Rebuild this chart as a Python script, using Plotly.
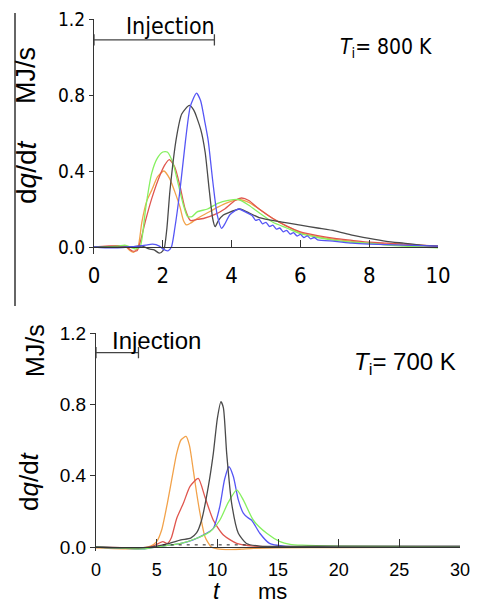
import plotly.graph_objects as go

# heat release rate curves (t in ms, dq/dt in MJ/s)
# ---- Ti = 800 K ----
t800_orange = [0, 0.5, 0.9, 1.05, 1.15, 1.28, 1.39, 1.53, 1.68, 1.85, 2.03, 2.2, 2.35, 2.5, 2.6, 2.69, 2.8, 3.0, 3.3,
               3.6, 3.9, 4.2, 4.5, 4.8, 5.2, 5.6, 6.0, 6.5, 7.0, 7.5, 8.0, 8.5, 9.0, 9.5, 10]
q800_orange = [0, 0, 0.005, -0.02, -0.028, 0.0, 0.13, 0.24, 0.30, 0.37, 0.40, 0.36, 0.29, 0.21, 0.14, 0.116, 0.125,
               0.15, 0.18, 0.21, 0.235, 0.25, 0.235, 0.2, 0.15, 0.11, 0.075, 0.055, 0.04, 0.03, 0.02, 0.015, 0.01,
               0.005, 0.005]

t800_red = [0, 0.9, 1.1, 1.25, 1.35, 1.5, 1.68, 1.9, 2.05, 2.19, 2.35, 2.5, 2.65, 2.8, 3.0, 3.18, 3.5, 3.8, 4.1,
            4.29, 4.5, 4.8, 5.2, 5.6, 6.0, 6.5, 7.0, 7.5, 8.0, 8.5, 9.0, 9.5, 10]
q800_red = [0, 0.005, -0.02, -0.02, 0.03, 0.14, 0.256, 0.37, 0.43, 0.46, 0.42, 0.32, 0.2, 0.14, 0.145, 0.15, 0.17,
            0.2, 0.245, 0.258, 0.245, 0.2, 0.15, 0.11, 0.08, 0.06, 0.045, 0.035, 0.025, 0.02, 0.015, 0.01, 0.005]

t800_green = [0, 0.7, 0.9, 1.2, 1.34, 1.4, 1.5, 1.68, 1.85, 2.0, 2.13, 2.3, 2.45, 2.6, 2.72, 2.85, 3.0, 3.3, 3.6,
              3.9, 4.2, 4.5, 4.8, 5.2, 5.6, 6.0, 6.5, 7.0, 7.5, 8.0, 8.5, 9.0, 9.5, 10]
q800_green = [0, 0.005, 0.01, -0.01, 0.0, 0.05, 0.2, 0.39, 0.47, 0.5, 0.5, 0.44, 0.33, 0.22, 0.16, 0.16, 0.185, 0.2,
              0.23, 0.245, 0.25, 0.22, 0.18, 0.13, 0.1, 0.07, 0.05, 0.035, 0.025, 0.02, 0.01, 0.005, 0.0, -0.005]

t800_black = [0, 1.0, 1.4, 1.6, 1.75, 1.9, 2.0, 2.05, 2.12, 2.21, 2.4, 2.55, 2.77, 2.9, 3.1, 3.23, 3.35, 3.45, 3.52,
              3.62, 3.76, 3.9, 4.24, 4.5, 4.8, 5.4, 6.0, 6.5, 7.0, 7.5, 8.0, 8.5, 9.0, 9.5, 10]
q800_black = [0, 0, 0.005, -0.01, -0.015, -0.033, -0.02, 0.0, 0.1, 0.3, 0.58, 0.7, 0.745, 0.72, 0.62, 0.5, 0.3,
              0.15, 0.107, 0.14, 0.168, 0.18, 0.2, 0.18, 0.155, 0.133, 0.115, 0.1, 0.085, 0.062, 0.045, 0.03, 0.02,
              0.01, 0.005]

t800_blue = [0, 0.5, 1.0, 1.3, 1.5, 1.7, 1.9, 2.0, 2.15, 2.25, 2.35, 2.5, 2.66, 2.8, 2.98, 3.1, 3.22, 3.32, 3.45,
             3.58, 3.71, 3.8, 3.95, 4.2, 4.45, 4.6, 4.7, 4.8, 4.9, 5.0, 5.1, 5.2, 5.3, 5.4, 5.5, 5.6, 5.7, 5.8, 5.9,
             6.0, 6.1, 6.2, 6.3, 6.4, 6.5, 7.0, 7.5, 8.0, 9.0, 10]
q800_blue = [0, -0.005, 0.0, 0.005, 0.01, 0.015, 0.005, -0.01, -0.02, 0.0, 0.1, 0.3, 0.56, 0.74, 0.81, 0.77, 0.66,
             0.56, 0.35, 0.17, 0.098, 0.12, 0.17, 0.2, 0.18, 0.165, 0.14, 0.145, 0.122, 0.13, 0.108, 0.115, 0.094,
             0.1, 0.08, 0.088, 0.068, 0.076, 0.058, 0.066, 0.05, 0.058, 0.043, 0.05, 0.038, 0.03, 0.02, 0.015, 0.01,
             0.005]

# ---- Ti = 700 K ----
t700_orange = [0, 3.5, 4.5, 5.0, 5.41, 5.88, 6.3, 6.65, 7.0, 7.42, 7.7, 8.02, 8.3, 8.57, 8.98, 9.5, 10, 11, 12, 13,
               15, 20, 30]
q700_orange = [-0.005, -0.01, 0.005, 0.03, 0.095, 0.245, 0.4, 0.525, 0.6, 0.62, 0.57, 0.43, 0.3, 0.19, 0.058, 0.0,
               -0.01, -0.015, -0.012, -0.008, -0.005, -0.003, 0]

t700_red = [0, 3.5, 4.5, 5.0, 5.5, 5.9, 6.2, 6.65, 7.2, 7.75, 8.43, 8.98, 9.67, 10.5, 11.6, 13, 20, 30]
q700_red = [0, -0.005, 0.0, 0.015, 0.03, 0.02, 0.05, 0.16, 0.245, 0.34, 0.385, 0.28, 0.15, 0.067, 0.02, 0.005,
            0.0, 0.0]

t700_black = [0, 3.5, 5, 6, 7, 7.8, 8.3, 8.7, 9.26, 9.67, 10.0, 10.3, 10.5, 10.77, 11.18, 11.73, 12.4, 13.5, 20, 30]
q700_black = [0, -0.005, 0.005, 0.02, 0.04, 0.05, 0.08, 0.15, 0.34, 0.525, 0.72, 0.815, 0.78, 0.525, 0.245, 0.077,
              0.02, 0.005, 0.005, 0.005]

t700_blue = [0, 4, 5, 6, 7, 8, 8.8, 9.67, 10.2, 10.6, 10.96, 11.32, 11.73, 12.14, 12.5, 12.83, 13.5, 14.3, 15.5, 20,
             30]
q700_blue = [0, -0.01, 0.0, 0.01, 0.02, 0.04, 0.065, 0.105, 0.226, 0.38, 0.45, 0.395, 0.264, 0.19, 0.165, 0.15,
             0.077, 0.02, 0.005, 0.0, 0.0]

t700_green = [0, 4, 5, 6, 7, 8.3, 9.4, 10.2, 10.9, 11.6, 12.14, 12.97, 14.07, 15.17, 16, 17, 20, 30]
q700_green = [0, -0.01, 0.0, 0.01, 0.02, 0.049, 0.086, 0.15, 0.25, 0.32, 0.264, 0.15, 0.077, 0.03, 0.015, 0.01,
              0.005, 0.0]

# faint dashed baseline seen near zero in the 700 K panel
t700_dash = [5.5, 12.5]
q700_dash = [0.012, 0.012]

# injection period bars (ms) drawn at the top of each panel
inj_t = [0, 3.5]
inj_q = [1.09, 1.09]

colors = {'orange': '#f2a24a', 'red': '#e0564e', 'green': '#86f060', 'black': '#4a4a4a', 'blue': '#5656f5'}

panel800 = [('orange', t800_orange, q800_orange), ('red', t800_red, q800_red), ('green', t800_green, q800_green),
            ('black', t800_black, q800_black), ('blue', t800_blue, q800_blue)]
panel700 = [('orange', t700_orange, q700_orange), ('red', t700_red, q700_red), ('blue', t700_blue, q700_blue),
            ('green', t700_green, q700_green), ('black', t700_black, q700_black)]

W, H = 483, 603
NARROW = 'Liberation Sans Narrow, DejaVu Sans Condensed, sans-serif'
SANS = 'Liberation Sans, Arial, sans-serif'
AXC = '#333333'


def px(x, y):
    # pixel position -> paper fraction
    return x / W, 1 - y / H


fig = go.Figure()

for name, t, q in panel800:
    fig.add_trace(go.Scatter(x=t, y=q, mode='lines', line=dict(color=colors[name], width=1.3, shape='spline',
                                                               smoothing=0.6),
                             xaxis='x', yaxis='y', showlegend=False))
for name, t, q in panel700:
    fig.add_trace(go.Scatter(x=t, y=q, mode='lines', line=dict(color=colors[name], width=1.3, shape='spline',
                                                               smoothing=0.6),
                             xaxis='x2', yaxis='y2', showlegend=False))
fig.add_trace(go.Scatter(x=t700_dash, y=q700_dash, mode='lines', line=dict(color='#222222', width=1, dash='3px,5px'),
                         xaxis='x2', yaxis='y2', showlegend=False))

for xa, ya in (('x', 'y'), ('x2', 'y2')):
    fig.add_trace(go.Scatter(x=inj_t, y=inj_q, mode='lines+markers', xaxis=xa, yaxis=ya, showlegend=False,
                             line=dict(color='#444444', width=1.3),
                             marker=dict(symbol='line-ns-open', size=8, line=dict(color='#444444', width=1.3))))

# panel geometry in pixels
top_x0, top_x1, top_y12, top_y0 = 94, 438, 19, 247
bot_x0, bot_x1, bot_y12, bot_y0 = 96, 460, 333, 547
top_lo = -0.035
bot_lo = -0.02
top_bottom_px = top_y0 + (top_y0 - top_y12) / 1.2 * (-top_lo)
bot_bottom_px = bot_y0 + (bot_y0 - bot_y12) / 1.2 * (-bot_lo)

common = dict(showgrid=False, zeroline=False, showline=True, linecolor=AXC, linewidth=1.2, tickcolor=AXC,
              automargin=False)

fig.update_layout(
    width=W, height=H, margin=dict(l=0, r=0, t=0, b=0, autoexpand=False),
    paper_bgcolor='white', plot_bgcolor='white',
    xaxis=dict(domain=[top_x0 / W, top_x1 / W], range=[0, 10], anchor='free', position=1 - top_y0 / H,
               tickvals=[0, 2, 4, 6, 8, 10], ticks='inside', ticklen=7, ticklabelstandoff=8,
               tickfont=dict(family=NARROW, size=22, color='black'), **common),
    yaxis=dict(domain=[1 - top_bottom_px / H, 1 - top_y12 / H], range=[top_lo, 1.2], anchor='x',
               tickvals=[0, 0.4, 0.8, 1.2], ticktext=['0.0', '0.4', '0.8', '1.2'], ticks='outside', ticklen=4,
               tickfont=dict(family=NARROW, size=19, color='black'), **common),
    xaxis2=dict(domain=[bot_x0 / W, bot_x1 / W], range=[0, 30], anchor='free', position=1 - bot_y0 / H,
                tickvals=[0, 5, 10, 15, 20, 25, 30], ticks='inside', ticklen=8, ticklabelstandoff=6,
                tickfont=dict(family=SANS, size=18, color='black'), **common),
    yaxis2=dict(domain=[1 - bot_bottom_px / H, 1 - bot_y12 / H], range=[bot_lo, 1.2], anchor='x2',
                tickvals=[0, 0.4, 0.8, 1.2], ticktext=['0.0', '0.4', '0.8', '1.2'], ticks='outside', ticklen=5,
                tickfont=dict(family=SANS, size=19, color='black'), **common),
)


def note(text, x, y, size, family=SANS, angle=0):
    ax, ay = px(x, y)
    fig.add_annotation(text=text, x=ax, y=ay, xref='paper', yref='paper', xanchor='center', yanchor='middle',
                       showarrow=False, textangle=angle, font=dict(family=family, size=size, color='black'))


note('Injection', 170, 26, 23, NARROW)
note('<i>T</i><sub>i</sub>= 800 K', 386, 48, 21, NARROW)
note('MJ/s', 26, 76, 27, SANS, -90)
note('d<i>q</i>/d<i>t</i>', 26, 172, 28, SANS, -90)

note('Injection', 156, 340, 24, SANS)
note('<i>T</i><sub>i</sub>= 700 K', 405, 363, 24, SANS)
note('MJ/s', 35, 351, 25, SANS, -90)
note('d<i>q</i>/d<i>t</i>', 29, 481, 26, SANS, -90)
note('<i>t</i>', 217, 591, 23, SANS)
note('ms', 272, 591, 22, SANS)

# left border line of the original figure
fig.add_shape(type='line', xref='paper', yref='paper', x0=15 / W, x1=15 / W, y0=1 - 13 / H, y1=1 - 306 / H,
              line=dict(color='#333333', width=1.5))

# drop the browser's default body margin so the figure sits at the window origin
fig.write_html("out.html", config={'displayModeBar': False},
               post_script="document.body.style.margin = '0px';")
